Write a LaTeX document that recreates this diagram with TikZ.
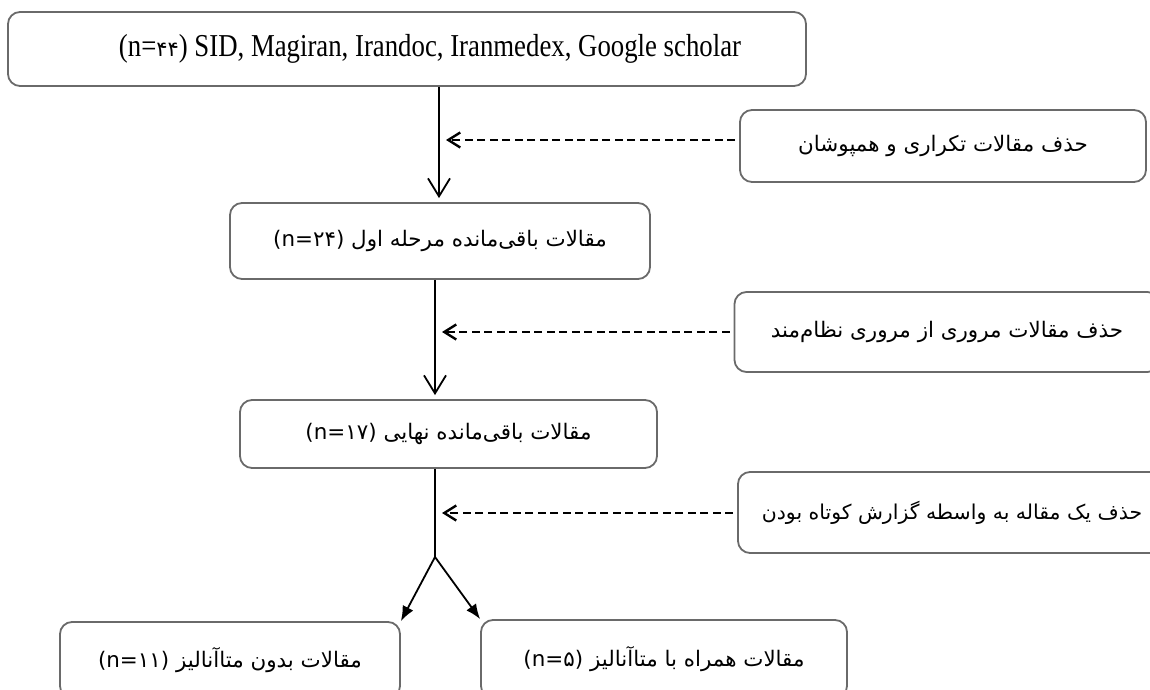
\documentclass[tikz,border=0pt]{standalone}
\usepackage{fontspec}
\setmainfont{Liberation Serif}
\newfontfamily\condserif[FakeStretch=0.84]{Liberation Serif}
\newfontfamily\arabicfont[Script=Arabic]{DejaVu Sans}
\TeXXeTstate=1
\usetikzlibrary{arrows.meta}
\definecolor{boxgray}{HTML}{6A6A6A}
\tikzset{
  stepbox/.style={draw=boxgray,line width=1.8bp,rounded corners=12bp,inner sep=0pt,align=center},
  fabox/.style={stepbox,font=\arabicfont\fontsize{21.5}{26}\selectfont},
  mainarrow/.style={black,line width=1.8bp,-{Straight Barb[length=18bp,width=22bp]}},
  dropline/.style={black,line width=2.4bp,dash pattern=on 8bp off 4.5bp,-{Straight Barb[length=12bp,width=15bp]}},
  branchline/.style={black,line width=1.8bp,-{Latex[length=15bp,width=12bp]}},
}
\begin{document}
\begin{tikzpicture}[line join=round]
\useasboundingbox (0bp,0bp) rectangle (1150bp,690bp);
\clip (0bp,0bp) rectangle (1150bp,690bp);
%%
\node (node_src) at (407bp,641bp) [stepbox,minimum width=798bp,minimum height=74bp,font=\condserif\fontsize{32}{36}\selectfont] {\hspace{46bp}\beginL(n={\arabicfont\fontsize{21}{26}\selectfont ۴۴})\endL{} SID, Magiran, Irandoc, Iranmedex, Google scholar};
  \node (node_del1) at (943bp,544bp) [fabox,minimum width=406bp,minimum height=72bp] {\beginR حذف مقالات تکراری و همپوشان\endR};
  \node (node_stage1) at (440bp,449bp) [fabox,minimum width=420bp,minimum height=76bp] {\beginR مقالات باقی‌مانده مرحله اول \beginL(n=۲۴)\endL\endR};
  \node (node_del2) at (947bp,358bp) [fabox,minimum width=425bp,minimum height=80bp] {\beginR حذف مقالات مروری از مروری نظام‌مند\endR};
  \node (node_final) at (448.5bp,256bp) [fabox,minimum width=417bp,minimum height=68bp] {\beginR مقالات باقی‌مانده نهایی \beginL(n=۱۷)\endL\endR};
  \node (node_del3) at (952bp,177.5bp) [fabox,minimum width=428bp,minimum height=81bp,font=\arabicfont\fontsize{20.5}{25}\selectfont] {\beginR حذف یک مقاله به واسطه گزارش کوتاه بودن\endR};
  \node (node_nometa) at (230bp,30bp) [fabox,minimum width=340bp,minimum height=76bp] {\beginR مقالات بدون متاآنالیز \beginL(n=۱۱)\endL\endR};
  \node (node_withmeta) at (664bp,31bp) [fabox,minimum width=366bp,minimum height=78bp] {\beginR مقالات همراه با متاآنالیز \beginL(n=۵)\endL\endR};
%
\coordinate (j1) at (439bp,550bp);
  \coordinate (j2) at (435bp,358bp);
  \coordinate (j3) at (435bp,177bp);
  \coordinate (fork) at (435bp,133bp);
  \draw [mainarrow,shorten >=4bp] (node_src.south -| j1) -- (node_stage1.north -| j1);
  \draw [mainarrow,shorten >=4bp] (node_stage1.south -| j2) -- (node_final.north -| j2);
  \draw [black,line width=1.8bp] (node_final.south -| j3) -- (fork);
  \draw [dropline,shorten <=4bp,shorten >=7bp] (node_del1.west |- j1) -- (j1);
  \draw [dropline,shorten <=4bp,shorten >=7bp] (node_del2.west |- j2) -- (j2);
  \draw [dropline,shorten <=4bp,shorten >=7bp] (node_del3.west |- j3) -- (j3);
  \draw [branchline] (fork) -- (node_nometa.north east);
  \draw [branchline] (fork) -- (node_withmeta.north west);
%
\end{tikzpicture}
\end{document}
